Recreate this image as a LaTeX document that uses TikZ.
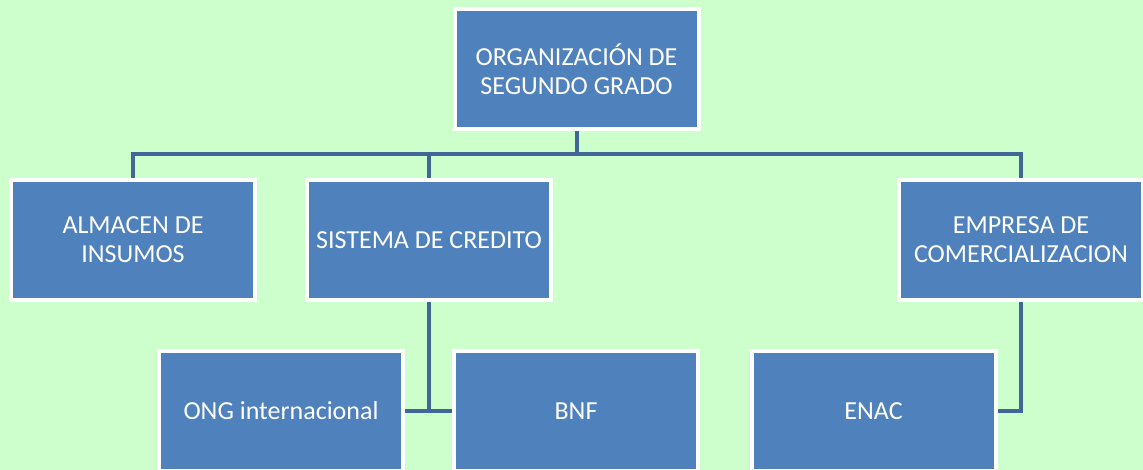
\documentclass[tikz,border=0pt]{standalone}
\usepackage{fontspec}
\setmainfont{Carlito}
\usepackage{tikz}
\usetikzlibrary{positioning, calc}
\definecolor{bggreen}{RGB}{204,255,204}
\definecolor{boxblue}{RGB}{79,129,189}
\definecolor{lineblue}{RGB}{65,103,154}

\tikzset{
    unit/.style={rectangle,draw=white,fill=boxblue,line width=4pt,minimum width=244pt,minimum height=120pt,
        text=white,align=center,font=\fontsize{26}{29}\selectfont},
    link/.style={draw=lineblue,line width=4pt}
}

\begin{document}
\begin{tikzpicture}[x=1pt,y=-1pt]
    % Sfondo
    \fill[bggreen] (0,0) rectangle (1143,470);
    \useasboundingbox (0,0) rectangle (1143,470);

    % Livello superiore
    \node[unit] (org) at (576.5,69.5) {ORGANIZACIÓN DE\\SEGUNDO GRADO};

    % Livello intermedio
    \node[unit] (alm) at (133,240) {ALMACEN DE\\INSUMOS};
    \node[unit] (sis) at (429,240) {SISTEMA DE CREDITO};
    \node[unit] (emp) at (1021,240) {EMPRESA DE\\COMERCIALIZACION};

    % Livello inferiore
    \node[unit] (ong) at (281,411) {ONG internacional};
    \node[unit] (bnf) at (576,411) {BNF};
    \node[unit] (enac) at (873.5,411) {ENAC};

    % Collegamenti
    \coordinate (bar) at (576.5,154);
    \draw[link] (org.south) -- (bar);
    \draw[link] (alm.north) |- (bar) -| (emp.north);
    \draw[link] (sis.north) -- (sis.north |- bar);
    \draw[link] (sis.south) -- (sis.south |- ong.east);
    \draw[link] (ong.east) -- (bnf.west);
    \draw[link] (emp.south) |- (enac.east);
\end{tikzpicture}
\end{document}
